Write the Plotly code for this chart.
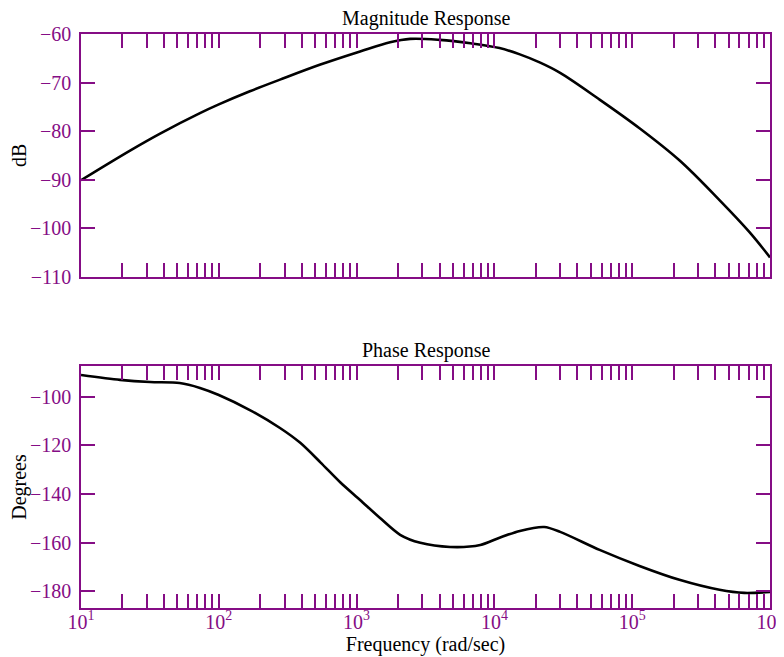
import plotly.graph_objects as go

# ---- data ----
mag_freq = [10, 22.7, 37.5, 73, 100, 168, 278, 546, 1060, 1750, 2450, 4000,
            6700, 10900, 15300, 21500, 30000, 58000, 113000, 220000, 430000, 710000, 1000000]
mag_db = [-90.1, -84.0, -80.5, -76.3, -74.5, -71.8, -69.4, -66.3, -63.6, -61.7, -61.0,
          -61.2, -61.9, -62.9, -64.2, -65.9, -68.0, -73.5, -79.4, -86.0, -94.2, -100.8, -106.0]

ph_freq = [10, 19.2, 31.7, 52, 73, 100, 168, 278, 390, 546, 760, 1060, 1480, 2070, 2900,
           4770, 7900, 10900, 15300, 23000, 30000, 58000, 113000, 220000, 430000, 650000, 1000000]
ph_deg = [-91.1, -93.1, -94.0, -94.4, -96.4, -99.3, -105.5, -112.9, -119.0, -127.0, -135.2,
          -142.5, -149.9, -156.8, -160.1, -161.8, -161.0, -158.0, -155.2, -153.6, -155.6,
          -163.0, -169.6, -175.3, -179.4, -180.7, -180.3]

decades = [1, 2, 3, 4, 5, 6]
x_tickvals = [k * 10 ** d for d in decades[:-1] for k in range(1, 10)] + [10 ** 6]
x_ticktext = [f"10<sup>{d}</sup>" if k == 1 else "" for d in decades[:-1] for k in range(1, 10)] + ["10<sup>6</sup>"]

mag_ticks = [-110, -100, -90, -80, -70, -60]
ph_ticks = [-180, -160, -140, -120, -100]

PURPLE = "#850d85"
FONT = "Liberation Serif"
TFONT = dict(family=FONT, size=20, color="black")

fig = go.Figure()
fig.add_trace(go.Scatter(x=mag_freq, y=mag_db, mode="lines",
                         line=dict(color="black", width=2.6, shape="spline", smoothing=1.0),
                         xaxis="x", yaxis="y", showlegend=False))
fig.add_trace(go.Scatter(x=ph_freq, y=ph_deg, mode="lines",
                         line=dict(color="black", width=2.6, shape="spline", smoothing=0.8),
                         xaxis="x2", yaxis="y2", showlegend=False))

xcommon = dict(type="log", range=[1, 6], tickvals=x_tickvals, ticktext=x_ticktext,
               ticks="inside", ticklen=14, tickwidth=1.5, tickcolor=PURPLE,
               showline=True, linecolor=PURPLE, linewidth=1.5, mirror="ticks",
               showgrid=False, zeroline=False, automargin=False,
               tickfont=dict(family=FONT, size=20, color=PURPLE))
ycommon = dict(ticks="inside", ticklen=14, tickwidth=1.5, tickcolor=PURPLE,
               showline=True, linecolor=PURPLE, linewidth=1.5, mirror="ticks",
               showgrid=False, zeroline=False, ticklabelstandoff=4, automargin=False,
               tickfont=dict(family=FONT, size=20, color=PURPLE))

top_dom = [0.577, 1.0]
bot_dom = [0.0, 0.4216]

# page body has an 8px margin, so the figure is sized/offset to compensate
fig.update_layout(
    width=776, height=649,
    margin=dict(l=73, r=14, t=26, b=49),
    paper_bgcolor="white", plot_bgcolor="white",
    font=dict(family=FONT, size=20, color="black"),
    xaxis=dict(**xcommon, anchor="y", showticklabels=False),
    yaxis=dict(**ycommon, domain=top_dom, range=[-110, -60], tickvals=mag_ticks, anchor="x",
               title=dict(text="dB", standoff=10, font=TFONT)),
    xaxis2=dict(**xcommon, anchor="y2", showticklabels=True, ticklabelstandoff=-5,
                title=dict(text="Frequency (rad/sec)", standoff=4, font=TFONT)),
    yaxis2=dict(**ycommon, domain=bot_dom, range=[-186.9, -87.4], tickvals=ph_ticks, anchor="x2",
                title=dict(text="Degrees", standoff=10, font=TFONT)),
    showlegend=False,
)

annos = [
    dict(text="Magnitude Response", x=0.5, xref="paper", y=1.0, yref="paper",
         yanchor="bottom", yshift=2, showarrow=False, font=TFONT),
    dict(text="Phase Response", x=0.5, xref="paper", y=bot_dom[1], yref="paper",
         yanchor="bottom", yshift=2, showarrow=False, font=TFONT),
]
fig.update_layout(annotations=annos)

fig.write_html("out.html")
